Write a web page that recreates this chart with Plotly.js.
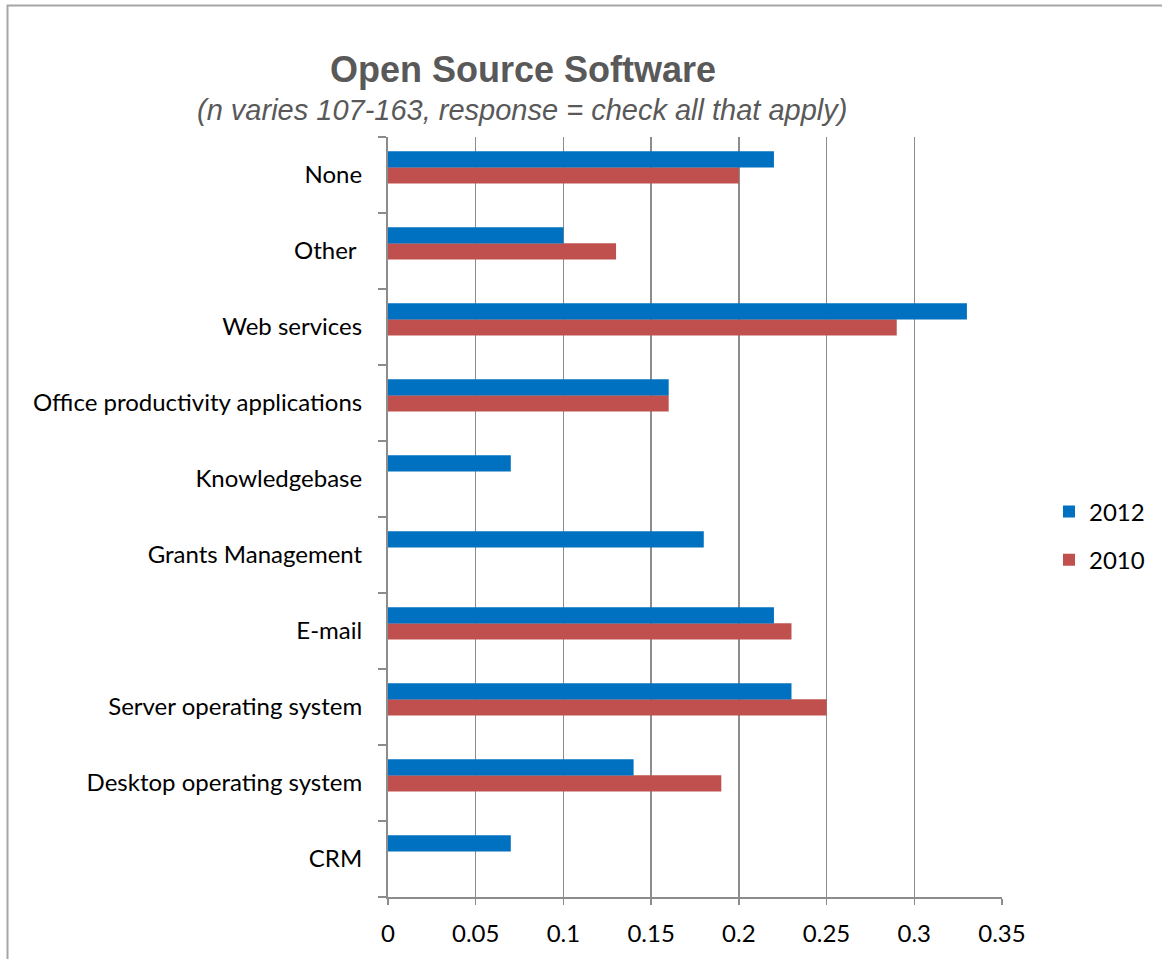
<!DOCTYPE html>
<html>
<head>
<meta charset="utf-8">
<script src="https://cdn.plot.ly/plotly-3.0.1.min.js"></script>
<style>
html,body{margin:0;padding:0;background:#fff;}
#chart{width:1162px;height:959px;}
</style>
</head>
<body>
<div id="chart"></div>
<script>
const categories = ["CRM", "Desktop operating system", "Server operating system", "E-mail",
  "Grants Management", "Knowledgebase", "Office productivity applications",
  "Web services", "Other ", "None"];
const values2012 = [0.07, 0.14, 0.23, 0.22, 0.18, 0.07, 0.16, 0.33, 0.10, 0.22];
const values2010 = [null, 0.19, 0.25, 0.23, null, null, 0.16, 0.29, 0.13, 0.20];
const seriesNames = ["2010", "2012"];
const xTicks = [0, 0.05, 0.1, 0.15, 0.2, 0.25, 0.3, 0.35];
const xTickLabels = ["0", "0.05", "0.1", "0.15", "0.2", "0.25", "0.3", "0.35"];
const titleText = "Open Source Software";
const subtitleText = "(n varies 107-163, response = check all that apply)";

const W = 1162, H = 959;
const L = 388, R = 1002, T = 137, B = 897;
const pw = R - L, ph = B - T;
const px = x => (x - L) / pw;
const py = y => (B - y) / ph;

const font = "Lato, 'Open Sans', sans-serif";
const catPx = ph / categories.length;   // pixels per category
const barW = 16.3 / catPx;

const traces = [
  {type: "bar", orientation: "h", name: seriesNames[0], y: categories, x: values2010,
   legendgroup: "b", legendrank: 2, offset: -8.5 / catPx, width: barW,
   marker: {color: "#C0504D"}, hoverinfo: "x+name"},
  {type: "bar", orientation: "h", name: seriesNames[1], y: categories, x: values2012,
   legendgroup: "a", legendrank: 1, offset: 7.5 / catPx, width: barW,
   marker: {color: "#0070C0"}, hoverinfo: "x+name"}
];

const layout = {
  width: W, height: H,
  margin: {l: L, r: W - R, t: T, b: H - B, pad: 0, autoexpand: false},
  paper_bgcolor: "#fff", plot_bgcolor: "#fff",
  font: {family: font, size: 24, color: "#000"},
  barmode: "group",
  showlegend: true,
  legend: {x: px(1049), y: py(536), xanchor: "left", yanchor: "middle",
           traceorder: "grouped", tracegroupgap: 14,
           font: {family: font, size: 24, color: "#000"},
           itemwidth: 30, bgcolor: "rgba(0,0,0,0)"},
  xaxis: {range: [0, 0.35], tickvals: xTicks, ticktext: xTickLabels, tickmode: "array",
          showgrid: true, gridcolor: "#8c8c8c", gridwidth: 1.5,
          showline: true, linecolor: "#8c8c8c", linewidth: 1.5,
          ticks: "outside", ticklen: 6, tickcolor: "#8c8c8c", tickwidth: 1.5,
          zeroline: false, ticklabelstandoff: 9, fixedrange: true},
  yaxis: {type: "category", tickson: "boundaries", ticks: "outside", ticklen: 8,
          tickcolor: "#8c8c8c", tickwidth: 1.5, showline: true, linecolor: "#8c8c8c",
          linewidth: 2, showgrid: false, zeroline: false, ticklabelstandoff: 19,
          fixedrange: true},
  annotations: [
    {text: "<b>" + titleText + "</b>", xref: "paper", yref: "paper", x: px(523), y: py(70),
     xanchor: "center", yanchor: "middle", showarrow: false,
     font: {family: "'Liberation Sans', Arial, sans-serif", size: 36, color: "#595959"}},
    {text: "<i>" + subtitleText + "</i>", xref: "paper", yref: "paper", x: px(522), y: py(110),
     xanchor: "center", yanchor: "middle", showarrow: false,
     font: {family: "'Liberation Sans', Arial, sans-serif", size: 29, color: "#595959"}}
  ],
  shapes: [
    {type: "rect", xref: "paper", yref: "paper", x0: px(7.5), x1: px(1175), y0: py(975), y1: py(5.5),
     line: {color: "#a6a6a6", width: 2}, fillcolor: "rgba(0,0,0,0)", layer: "below"}
  ]
};

Plotly.newPlot("chart", traces, layout, {displayModeBar: false, staticPlot: true});
</script>
</body>
</html>
